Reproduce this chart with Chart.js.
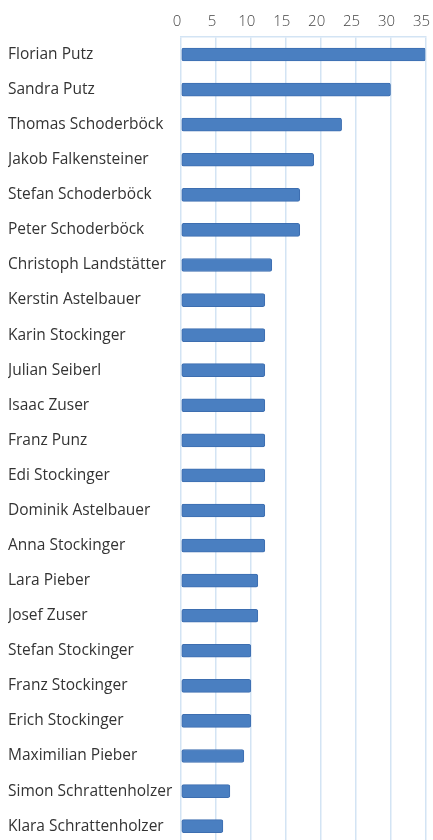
<!DOCTYPE html>
<html><head><meta charset="utf-8">
<script src="https://cdn.jsdelivr.net/npm/chart.js@4"></script>
<style>html,body{margin:0;padding:0;background:#fff;overflow:hidden;}</style>
</head><body>
<canvas id="c" width="440" height="857"></canvas>
<script>
const categories = ["Florian Putz","Sandra Putz","Thomas Schoderböck","Jakob Falkensteiner","Stefan Schoderböck","Peter Schoderböck","Christoph Landstätter","Kerstin Astelbauer","Karin Stockinger","Julian Seiberl","Isaac Zuser","Franz Punz","Edi Stockinger","Dominik Astelbauer","Anna Stockinger","Lara Pieber","Josef Zuser","Stefan Stockinger","Franz Stockinger","Erich Stockinger","Maximilian Pieber","Simon Schrattenholzer","Klara Schrattenholzer"];
const values = [35,30,23,19,17,17,13,12,12,12,12,12,12,12,12,11,11,10,10,10,9,7,6];
const xTicks = [0,5,10,15,20,25,30,35];

new Chart(document.getElementById('c'), {
  type: 'bar',
  data: { labels: categories, datasets: [{ data: values, backgroundColor: '#4a7fc1', borderColor: '#3d6eb0', borderWidth: 1, borderRadius: 2, borderSkipped: false, barThickness: 13 }] },
  options: {
    indexAxis: 'y', responsive: false, animation: false,
    layout: { padding: { left: 8, right: 0, top: 7, bottom: 0 } },
    plugins: { legend: { display: false }, tooltip: { enabled: false } },
    scales: {
      x: { position: 'top', min: 0, max: 35, afterBuildTicks: s => { s.ticks = xTicks.map(v => ({ value: v })); },
        ticks: { color: '#444', font: { family: 'Open Sans', size: 15, weight: 300 }, padding: 6, labelOffset: -4 },
        grid: { color: '#d3e4f4', drawTicks: false, lineWidth: 1.5 },
        border: { display: true, color: '#d3e4f4', width: 1.5 } },
      y: { afterFit: s => { s.width = 173; },
        ticks: { crossAlign: 'far', color: '#333', font: { family: 'Open Sans', size: 15.5 }, padding: 4, autoSkip: false },
        grid: { display: false }, border: { display: false } }
    }
  }
});
</script>
</body></html>
